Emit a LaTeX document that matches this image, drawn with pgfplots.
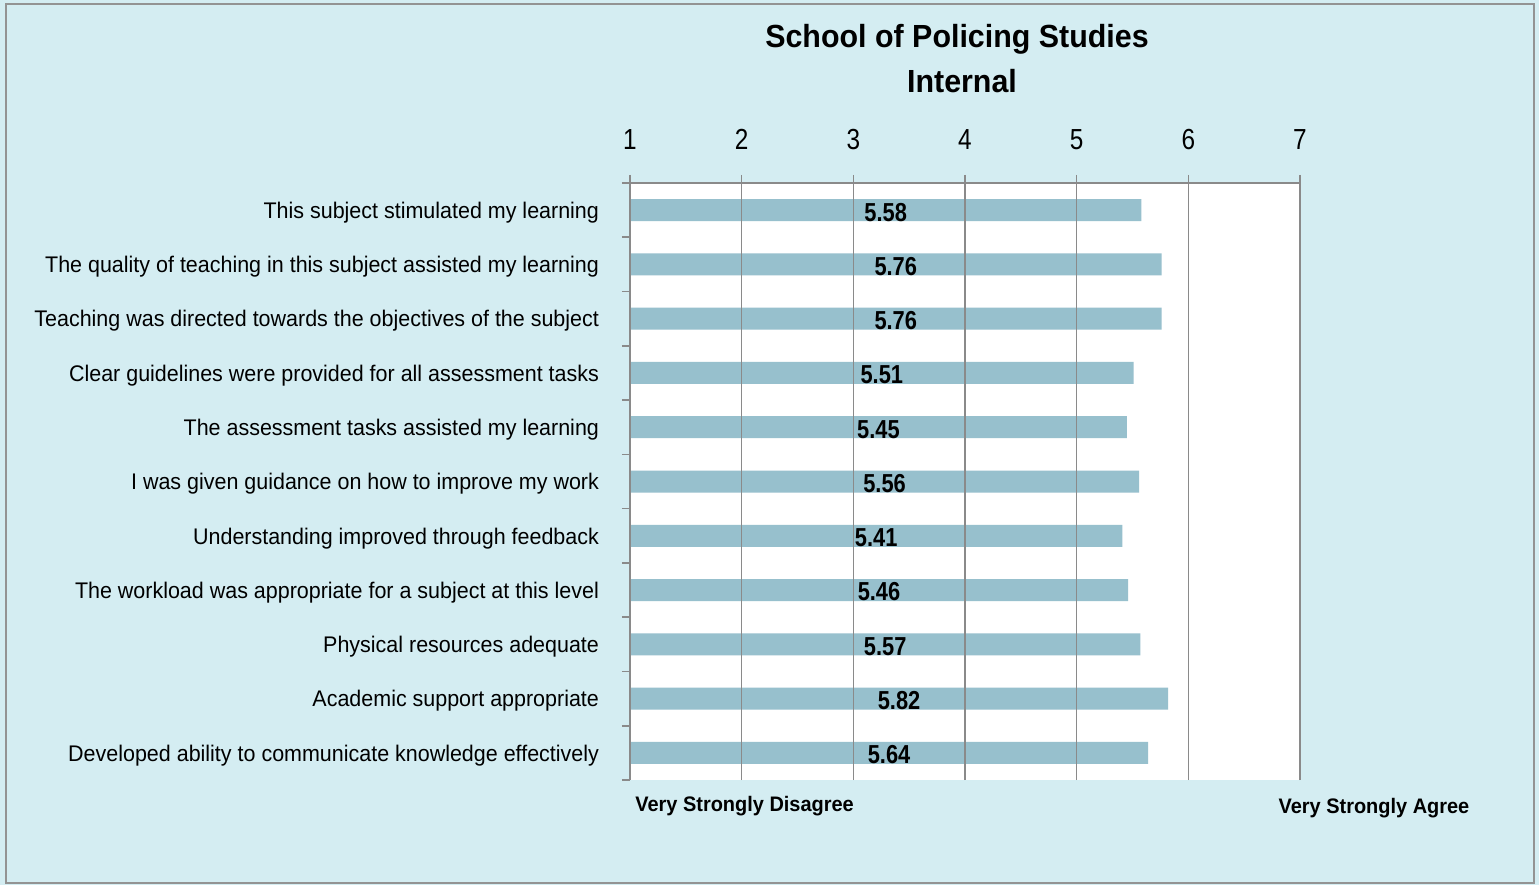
\documentclass[border=0pt]{standalone}
\usepackage{fontspec}
\setmainfont{Liberation Sans}[FakeStretch=0.95]
\newfontfamily\narrowfont{Liberation Sans}[FakeStretch=0.84]
\usepackage{pgfplots}
\pgfplotsset{compat=1.18}
\definecolor{bgc}{HTML}{D4EDF2}
\definecolor{barc}{HTML}{97C0CD}
\definecolor{gridc}{HTML}{8A8A8A}
\begin{document}
\begin{tikzpicture}[x=1pt,y=1pt]
\fill[bgc] (0,0) rectangle (769.5,442.5);
\draw[gray!85, line width=1pt] (3,1) rectangle (767,440.5);
\begin{axis}[
  at={(315pt,52.5pt)}, anchor=south west,
  scale only axis, width=335pt, height=298.5pt,
  xmin=1, xmax=7, ymin=-0.5, ymax=10.5,
  axis x line*=top, axis y line*=left,
  axis background/.style={fill=white},
  axis on top,
  axis line style={gridc, line width=0.8pt},
  xtick={1,2,3,4,5,6,7},
  xmajorgrids, grid style={gridc, line width=0.8pt},
  tick align=outside, major tick length=4pt,
  x tick style={gridc, line width=0.8pt},
  /pgf/number format/assume math mode=true,
  xticklabel style={font=\narrowfont\fontsize{14.5}{14.5}\selectfont, yshift=9pt},
  ytick={0,1,2,3,4,5,6,7,8,9,10},
  y tick style={draw=none},
  yticklabels={
    Developed ability to communicate knowledge effectively,
    Academic support appropriate,
    Physical resources adequate,
    The workload was appropriate for a subject at this level,
    Understanding improved through feedback,
    I was given guidance on how to improve my work,
    The assessment tasks assisted my learning,
    Clear guidelines were provided for all assessment tasks,
    Teaching was directed towards the objectives of the subject,
    The quality of teaching in this subject assisted my learning,
    This subject stimulated my learning},
  yticklabel style={font=\fontsize{11.3}{11.3}\selectfont, xshift=-8pt, yshift=-1.2pt},
  extra y ticks={-0.5,0.5,1.5,2.5,3.5,4.5,5.5,6.5,7.5,8.5,9.5,10.5},
  extra y tick labels={},
  extra y tick style={y tick style={draw=gridc, line width=0.8pt}, major tick length=4pt},
]
\addplot[xbar, bar width=11pt, fill=barc, draw=none] coordinates {
  (5.58,10) (5.76,9) (5.76,8) (5.51,7) (5.45,6) (5.56,5)
  (5.41,4) (5.46,3) (5.57,2) (5.82,1) (5.64,0)};
\addplot[draw=none, mark=none, nodes near coords, point meta=explicit symbolic,
  nodes near coords align=center,
  every node near coord/.append style={font=\narrowfont\bfseries\fontsize{13}{13}\selectfont, text=black, yshift=-1pt}]
  coordinates {
  (3.29,10) [5.58] (3.38,9) [5.76] (3.38,8) [5.76] (3.255,7) [5.51]
  (3.225,6) [5.45] (3.28,5) [5.56] (3.205,4) [5.41] (3.23,3) [5.46]
  (3.285,2) [5.57] (3.41,1) [5.82] (3.32,0) [5.64]};
\end{axis}
\node[font=\bfseries\fontsize{16}{16}\selectfont] at (478.5,423) {School of Policing Studies};
\node[font=\bfseries\fontsize{16}{16}\selectfont] at (481,402) {Internal};
\node[font=\bfseries\fontsize{10.5}{10.5}\selectfont, anchor=west, inner sep=0pt] at (317.5,39.5) {Very Strongly Disagree};
\node[font=\bfseries\fontsize{10.5}{10.5}\selectfont] at (687,38.5) {Very Strongly Agree};
\pgfresetboundingbox
\useasboundingbox (0,0) rectangle (769.5,442.5);
\end{tikzpicture}
\end{document}
